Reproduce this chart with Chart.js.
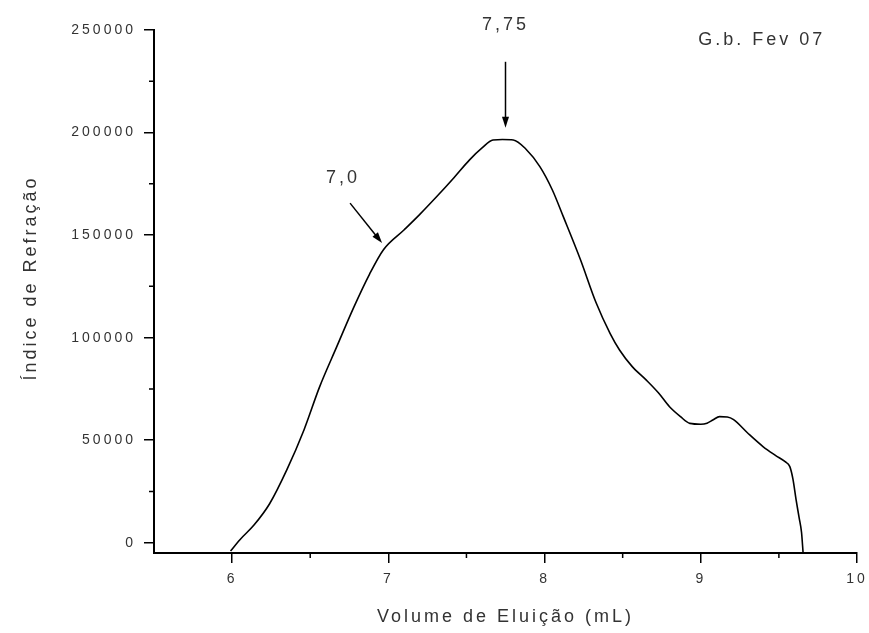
<!DOCTYPE html>
<html>
<head>
  <meta charset="UTF-8">
  <title>Índice de Refração x Volume de Eluição</title>
  <script src="https://cdn.jsdelivr.net/npm/chart.js"></script>
  <style>
    body { margin: 0; background: #fff; }
    #chartContainer { width: 869px; height: 633px; position: relative; }
  </style>
</head>
<body>
  <div id="chartContainer">
    <canvas id="riChart"></canvas>
  </div>

  <script>
    // Volume de eluição (mL) and refractive index signal
    const volume = [5.99, 6.05, 6.14, 6.24, 6.35, 6.46, 6.56, 6.67, 6.78, 6.88,
                    6.97, 7.10, 7.20, 7.31, 7.42, 7.52, 7.60, 7.67, 7.73, 7.80,
                    7.88, 7.97, 8.05, 8.12, 8.23, 8.33, 8.42, 8.48, 8.56, 8.65,
                    8.73, 8.80, 8.87, 8.93, 9.00, 9.04, 9.08, 9.12, 9.17, 9.21,
                    9.30, 9.40, 9.48, 9.54, 9.57, 9.59, 9.61, 9.63, 9.645, 9.655];
    const indice = [-4000, 1500, 8600, 19000, 35500, 55000, 76000, 95600, 115000, 131000,
                    143000, 152500, 160000, 168800, 178000, 186700, 192500, 196400, 196600, 196400,
                    192000, 183400, 172000, 159000, 138000, 117000, 102000, 94000, 86000, 79400,
                    73000, 66300, 61500, 58200, 57800, 58300, 60000, 61500, 61300, 60000,
                    53500, 46800, 42500, 39500, 37100, 31000, 21000, 12000, 5000, -5000];

    // axis ticks
    const xTicks = [6, 7, 8, 9, 10];
    const xMinor = [6.5, 7.5, 8.5, 9.5];
    const yTicks = [0, 50000, 100000, 150000, 200000, 250000];
    const yMinor = [25000, 75000, 125000, 175000, 225000];

    const yTitle = 'Índice de Refração';

    // labels drawn on the plot (text, arrow start, arrow end in data units)
    const notes = [
      { text: '7,75', tx: 7.75, ty: 252500, from: [7.75, 234500], to: [7.75, 202300] },
      { text: '7,0', tx: 6.71, ty: 177900, from: [6.755, 165600], to: [6.96, 146100] },
      { text: 'G.b. Fev 07', tx: 9.39, ty: 245200 }
    ];

    const FONT = "'Liberation Sans', Arial, sans-serif";
    const INK = '#333';

    // Origin-like spaced lettering for every text on the canvas
    const spacingPlugin = {
      id: 'spacing',
      beforeDraw(chart) { chart.ctx.letterSpacing = '3px'; }
    };

    // minor ticks, y title, arrows/labels
    const extrasPlugin = {
      id: 'extras',
      afterDraw(chart) {
        const ctx = chart.ctx;
        const xs = chart.scales.x, ys = chart.scales.y;
        const area = chart.chartArea;
        ctx.save();
        ctx.strokeStyle = '#000';
        ctx.lineWidth = 1.5;
        ctx.beginPath();
        xMinor.forEach(v => {
          const px = xs.getPixelForValue(v);
          ctx.moveTo(px, area.bottom);
          ctx.lineTo(px, area.bottom + 5);
        });
        yMinor.forEach(v => {
          const py = ys.getPixelForValue(v);
          ctx.moveTo(area.left, py);
          ctx.lineTo(area.left - 5, py);
        });
        ctx.stroke();

        ctx.letterSpacing = '3px';
        ctx.fillStyle = INK;
        ctx.font = '18px ' + FONT;
        ctx.textAlign = 'center';
        ctx.textBaseline = 'middle';

        // vertical axis title
        ctx.save();
        ctx.translate(31, 278);
        ctx.rotate(-Math.PI / 2);
        ctx.fillText(yTitle, 0, 0);
        ctx.restore();

        notes.forEach(n => {
          ctx.fillText(n.text, xs.getPixelForValue(n.tx), ys.getPixelForValue(n.ty));
          if (!n.from) return;
          const x1 = xs.getPixelForValue(n.from[0]), y1 = ys.getPixelForValue(n.from[1]);
          const x2 = xs.getPixelForValue(n.to[0]), y2 = ys.getPixelForValue(n.to[1]);
          const ang = Math.atan2(y2 - y1, x2 - x1);
          ctx.strokeStyle = '#000';
          ctx.lineWidth = 1.5;
          ctx.beginPath();
          ctx.moveTo(x1, y1);
          ctx.lineTo(x2 - 6 * Math.cos(ang), y2 - 6 * Math.sin(ang));
          ctx.stroke();
          ctx.fillStyle = '#000';
          ctx.beginPath();
          ctx.moveTo(x2, y2);
          ctx.lineTo(x2 - 11 * Math.cos(ang) + 3.5 * Math.sin(ang), y2 - 11 * Math.sin(ang) - 3.5 * Math.cos(ang));
          ctx.lineTo(x2 - 11 * Math.cos(ang) - 3.5 * Math.sin(ang), y2 - 11 * Math.sin(ang) + 3.5 * Math.cos(ang));
          ctx.closePath();
          ctx.fill();
          ctx.fillStyle = INK;
        });
        ctx.restore();
      }
    };

    const ctx = document.getElementById('riChart').getContext('2d');
    new Chart(ctx, {
      type: 'line',
      data: {
        datasets: [{
          label: 'G.b. Fev 07',
          data: volume.map((v, i) => ({ x: v, y: indice[i] })),
          borderColor: '#000',
          borderWidth: 1.6,
          pointRadius: 0,
          fill: false,
          cubicInterpolationMode: 'monotone'
        }]
      },
      options: {
        responsive: true,
        maintainAspectRatio: false,
        animation: false,
        layout: { padding: { top: 30, right: 12, left: 0, bottom: 0 } },
        plugins: {
          legend: { display: false },
          tooltip: { enabled: false }
        },
        scales: {
          x: {
            type: 'linear',
            min: 5.5,
            max: 10,
            afterBuildTicks: s => { s.ticks = xTicks.map(v => ({ value: v })); },
            afterFit: s => { s.height = 80; s.paddingLeft = 0; s.paddingRight = 0; },
            grid: { drawOnChartArea: false, drawTicks: true, tickLength: 10, color: '#000', lineWidth: 1.5 },
            border: { display: true, color: '#000', width: 2 },
            ticks: { color: INK, font: { family: FONT, size: 14 }, padding: 8, maxRotation: 0,
                     callback: v => String(v) },
            title: { display: true, text: 'Volume de Eluição (mL)', color: INK,
                     font: { family: FONT, size: 18 }, padding: { bottom: 5 } }
          },
          y: {
            min: -5000,
            max: 250000,
            afterBuildTicks: s => { s.ticks = yTicks.map(v => ({ value: v })); },
            afterFit: s => { s.width = 154; s.paddingTop = 0; s.paddingBottom = 0; },
            grid: { drawOnChartArea: false, drawTicks: true, tickLength: 10, color: '#000', lineWidth: 1.5 },
            border: { display: true, color: '#000', width: 2 },
            ticks: { color: INK, font: { family: FONT, size: 14 }, padding: 8,
                     callback: v => String(v) },
            title: { display: false }
          }
        }
      },
      plugins: [spacingPlugin, extrasPlugin]
    });
  </script>
</body>
</html>
